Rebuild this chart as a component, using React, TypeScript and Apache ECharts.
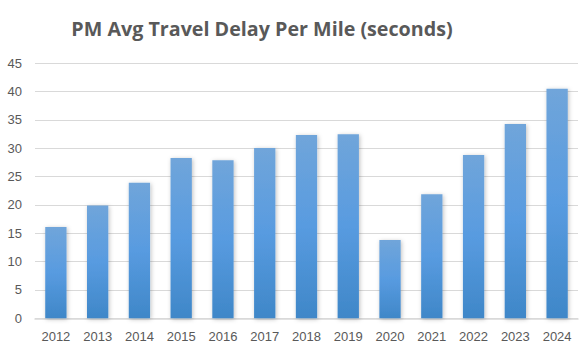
import React, { useEffect, useRef } from "react";
import * as echarts from "echarts";

const years = ["2012","2013","2014","2015","2016","2017","2018","2019","2020","2021","2022","2023","2024"];
const delays = [16.1, 19.9, 23.9, 28.3, 27.9, 30.05, 32.35, 32.5, 13.8, 21.9, 28.8, 34.3, 40.5];
const titleText = "PM Avg Travel Delay Per Mile (seconds)";

export default function App() {
  const ref = useRef<HTMLDivElement>(null);
  useEffect(() => {
    if (!ref.current) return;
    const chart = echarts.init(ref.current, null, { renderer: "svg" });
    chart.setOption({
      animation: false,
      backgroundColor: "#ffffff",
      title: {
        text: titleText,
        left: 257,
        textAlign: "center",
        top: 13,
        textStyle: { fontFamily: "Open Sans", fontSize: 19.7, fontWeight: "bold", color: "#595959" },
      },
      grid: { left: 35, right: 2, top: 63.3, bottom: 32.7 },
      xAxis: {
        type: "category",
        data: years,
        axisLine: { lineStyle: { color: "#d9d9d9", width: 1.5 } },
        axisTick: { show: false },
        axisLabel: { color: "#595959", fontSize: 13, fontFamily: "Liberation Sans", margin: 12 },
      },
      yAxis: {
        type: "value",
        min: 0,
        max: 45,
        interval: 5,
        axisLine: { show: false },
        axisTick: { show: false },
        splitLine: { lineStyle: { color: "#d9d9d9", width: 1 } },
        axisLabel: { color: "#595959", fontSize: 13, fontFamily: "Liberation Sans", margin: 13 },
      },
      series: [
        {
          type: "bar",
          data: delays,
          barWidth: "51%",
          itemStyle: {
            color: new echarts.graphic.LinearGradient(0, 0, 0, 1, [
              { offset: 0, color: "#70a5da" },
              { offset: 0.5, color: "#589be0" },
              { offset: 1, color: "#3f87c8" },
            ]),
            shadowColor: "rgba(0,0,0,0.25)",
            shadowBlur: 4,
            shadowOffsetX: 1,
            shadowOffsetY: 1,
          },
        },
      ],
    });
    return () => chart.dispose();
  }, []);
  return <div ref={ref} style={{ width: 580, height: 351, position: "absolute", left: 0, top: 0 }} />;
}
